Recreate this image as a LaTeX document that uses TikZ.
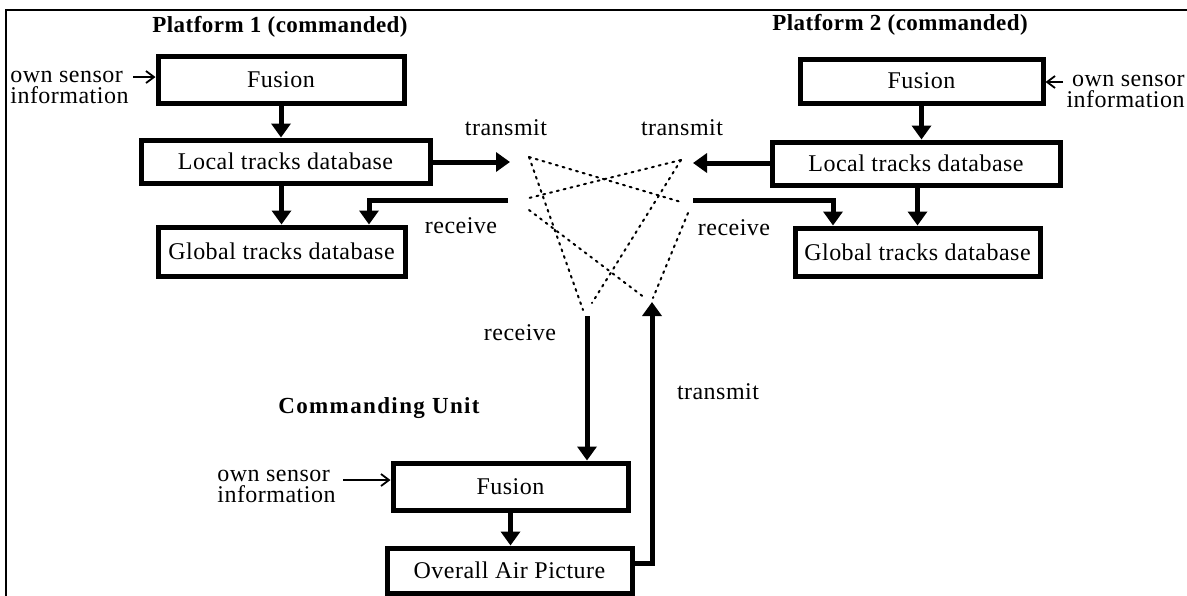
\documentclass[tikz,border=0pt]{standalone}
\usepackage{fontspec}
\setmainfont{Liberation Serif}
\newfontfamily\bodyf{Liberation Serif}[LetterSpace=2]
\newfontfamily\titlef{Liberation Serif}[LetterSpace=2]
\newfontfamily\cuf{Liberation Serif}[LetterSpace=6]
\usetikzlibrary{arrows.meta}
\begin{document}
\begin{tikzpicture}[x=0.5pt,y=-0.5pt,
  box/.style={draw, line width=2.5pt, inner sep=0pt, font=\bodyf\fontsize{12}{13}\selectfont},
  lbl/.style={inner sep=0pt, font=\bodyf\fontsize{12}{10.5}\selectfont},
  ttl/.style={inner sep=0pt, font=\titlef\bfseries\fontsize{11.5}{13}\selectfont},
  cut/.style={inner sep=0pt, font=\cuf\bfseries\fontsize{11.5}{13}\selectfont},
  thk/.style={line width=2.5pt, line join=miter, -{Triangle[length=7pt,width=9.5pt]}},
  sens/.style={line width=0.9pt, -{Straight Barb[length=4pt,width=6pt]}},
  net/.style={line width=1pt, dash pattern=on 1pt off 2.5pt, line cap=round}]
\useasboundingbox (0,0) rectangle (1187,595);
\fill[white] (0,0) rectangle (1187,595);
% frame
\draw[line width=1pt] (6,600) -- (6,10) -- (1190,10);

% Platform 1
\node[ttl] (t1) at (280,27) {Platform 1 (commanded)};
\node[box, minimum width=123pt, minimum height=23.5pt] (F1) at (281,79.5) {Fusion};
\node[box, minimum width=144.5pt, minimum height=21.5pt] (L1) at (285.5,161.5) {Local tracks database};
\node[box, minimum width=123.5pt, minimum height=24.5pt] (G1) at (281.5,251.5) {Global tracks database};
\node[lbl, align=left, anchor=west] (os1) at (10,87) {own sensor\\information};
\coordinate (os1a) at (133,77);
\draw[sens] (os1a) -- (F1.west |- os1a);
\draw[thk] (F1.south) -- (F1.south |- L1.north);
\draw[thk] (G1.north |- L1.south) -- (G1.north);

% Platform 2
\node[ttl] (t2) at (900,25) {Platform 2 (commanded)};
\node[box, minimum width=121.5pt, minimum height=22pt] (F2) at (921.5,81) {Fusion};
\node[box, minimum width=144pt, minimum height=21.5pt] (L2) at (916,163.5) {Local tracks database};
\node[box, minimum width=122.5pt, minimum height=24pt] (G2) at (917.5,252) {Global tracks database};
\node[lbl, align=right, anchor=east] (os2) at (1185,91) {own sensor\\information};
\coordinate (os2a) at (1063,82);
\draw[sens] (os2a) -- (F2.east |- os2a);
\draw[thk] (F2.south) -- (F2.south |- L2.north);
\draw[thk] (G2.north |- L2.south) -- (G2.north);

% transmit / receive labels
\node[lbl] (tx1l) at (506,128) {transmit};
\node[lbl] (tx2l) at (682,128) {transmit};
\node[lbl] (rx1l) at (461,226) {receive};
\node[lbl] (rx2l) at (734,228) {receive};
\node[lbl] (rx3l) at (520,333) {receive};
\node[lbl] (tx3l) at (718,392) {transmit};

% network terminals
\coordinate (tx1) at (510,162);
\coordinate (rx1) at (508,200);
\coordinate (rx1c) at (369,200);
\coordinate (tx2) at (693,163);
\coordinate (rx2) at (693,200);
\coordinate (rx2c) at (833,200);
\coordinate (rx3) at (587,316);
\coordinate (tx3) at (652,302);
\coordinate (tx3c) at (652,563);

\draw[thk] (L1.east |- tx1) -- (tx1);
\draw[thk] (rx1) -- (rx1c) -- (rx1c |- G1.north);
\draw[thk] (L2.west |- tx2) -- (tx2);
\draw[thk] (rx2) -- (rx2c) -- (rx2c |- G2.north);

% dotted network
\coordinate (A) at (529,157);
\coordinate (C) at (529,198);
\coordinate (Cp) at (529,210);
\coordinate (B) at (681,160);
\coordinate (D) at (681,202);
\coordinate (Dp) at (688,213);
\coordinate (E1) at (583,310);
\coordinate (E2) at (592,303);
\coordinate (Fa) at (645,298);
\coordinate (Fb) at (653,298);
\draw[net] (A) -- (D);
\draw[net] (A) -- (E1);
\draw[net] (B) -- (C);
\draw[net] (B) -- (E2);
\draw[net] (Cp) -- (Fa);
\draw[net] (Dp) -- (Fb);

% Commanding unit
\node[cut] (cu) at (379,408) {Commanding Unit};
\node[box, minimum width=117.5pt, minimum height=23.5pt] (CF) at (510.5,486.5) {Fusion};
\node[box, minimum width=122.5pt, minimum height=22.5pt] (OAP) at (509.5,570.5) {Overall Air Picture};
\node[lbl, align=left, anchor=west] (os3) at (217,486.5) {own sensor\\information};
\coordinate (os3a) at (343,480);
\draw[sens] (os3a) -- (CF.west |- os3a);
\draw[thk] (CF.south) -- (CF.south |- OAP.north);
\draw[thk] (rx3) -- (rx3 |- CF.north);
\draw[thk] (OAP.east |- tx3c) -- (tx3c) -- (tx3);
\end{tikzpicture}
\end{document}
